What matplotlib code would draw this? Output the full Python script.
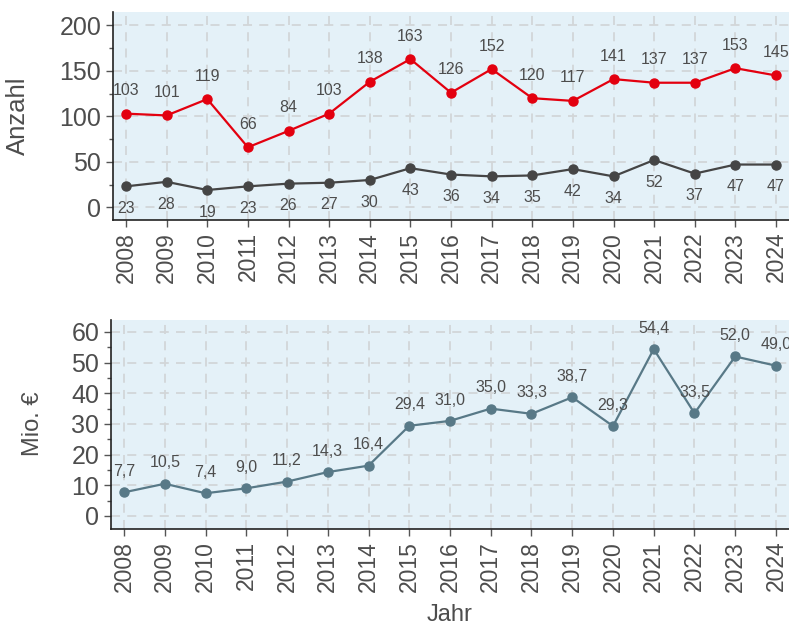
import numpy as np
import matplotlib.pyplot as plt
from matplotlib.ticker import MultipleLocator

plt.rcParams['font.family'] = ['Liberation Sans', 'DejaVu Sans']

# Daten
jahre = list(range(2008, 2025))
anzahl_rot = [103, 101, 119, 66, 84, 103, 138, 163, 126, 152, 120, 117, 141, 137, 137, 153, 145]
anzahl_grau = [23, 28, 19, 23, 26, 27, 30, 43, 36, 34, 35, 42, 34, 52, 37, 47, 47]
mio_euro = [7.7, 10.5, 7.4, 9.0, 11.2, 14.3, 16.4, 29.4, 31.0, 35.0, 33.3, 38.7, 29.3, 54.4, 33.5, 52.0, 49.0]

rot = '#e3000f'
grau = '#454545'
blaugrau = '#587987'
txt = '#4d4d4d'
hg = '#e4f1f8'

fig = plt.figure(figsize=(7.89, 6.28), dpi=100)
ax1 = fig.add_axes([113/789, 1-220/628, 1-113/789, 208/628])
ax2 = fig.add_axes([111/789, 1-529/628, 1-111/789, 209/628])


def stil(ax):
    ax.set_facecolor(hg)
    for s in ['top', 'right']:
        ax.spines[s].set_visible(False)
    ax.spines['left'].set_color('#222222')
    ax.spines['bottom'].set_color('#222222')
    ax.spines['left'].set_linewidth(1.2)
    ax.spines['bottom'].set_linewidth(1.2)
    ax.grid(True, which='major', color='#d2d6d8', linestyle=(0, (5, 4)), linewidth=1.3)
    ax.set_axisbelow(True)
    ax.set_xticks(jahre)
    ax.set_xticklabels([str(j) for j in jahre], rotation=90, fontsize=16.5)
    ax.tick_params(axis='both', which='major', labelcolor=txt,
                   color='#555555', length=5, width=1)
    ax.tick_params(axis='y', which='major', labelsize=18)
    ax.tick_params(axis='y', which='minor', color='#555555', length=3, width=1)
    ax.set_xlim(2007.68, 2024.32)


# oben
stil(ax1)
ax1.plot(jahre, anzahl_rot, color=rot, marker='o', markersize=6.5, linewidth=1.6)
ax1.plot(jahre, anzahl_grau, color=grau, marker='o', markersize=6.5, linewidth=1.6)
for x, y in zip(jahre, anzahl_rot):
    ax1.annotate(str(y), (x, y), xytext=(0, 16.5), textcoords='offset points',
                 ha='center', va='center', fontsize=11.5, color=txt)
for x, y in zip(jahre, anzahl_grau):
    ax1.annotate(str(y), (x, y), xytext=(0, -16), textcoords='offset points',
                 ha='center', va='center', fontsize=11.5, color=txt)
ax1.set_ylim(-14, 214.8)
ax1.yaxis.set_major_locator(MultipleLocator(50))
ax1.yaxis.set_minor_locator(MultipleLocator(25))
ax1.set_ylabel('Anzahl', fontsize=18.5, color=txt)
ax1.yaxis.set_label_coords(-(113 - 30) / 676, 0.5)

# unten
stil(ax2)
ax2.plot(jahre, mio_euro, color=blaugrau, marker='o', markersize=6.5, linewidth=1.6)
for x, y in zip(jahre, mio_euro):
    ax2.annotate(f'{y:.1f}'.replace('.', ','), (x, y), xytext=(0, 15), textcoords='offset points',
                 ha='center', va='center', fontsize=11.5, color=txt)
ax2.set_ylim(-4.26, 63.9)
ax2.yaxis.set_major_locator(MultipleLocator(10))
ax2.yaxis.set_minor_locator(MultipleLocator(5))
ax2.set_ylabel('Mio. €', fontsize=17, color=txt)
ax2.yaxis.set_label_coords(-(111 - 44) / 678, (529 - 424) / 209)
ax2.set_xlabel('Jahr', fontsize=17, color=txt)
ax2.xaxis.set_label_coords((450 - 111) / 678, -(604 - 529) / 209)

fig.savefig('out.png', dpi=100)
